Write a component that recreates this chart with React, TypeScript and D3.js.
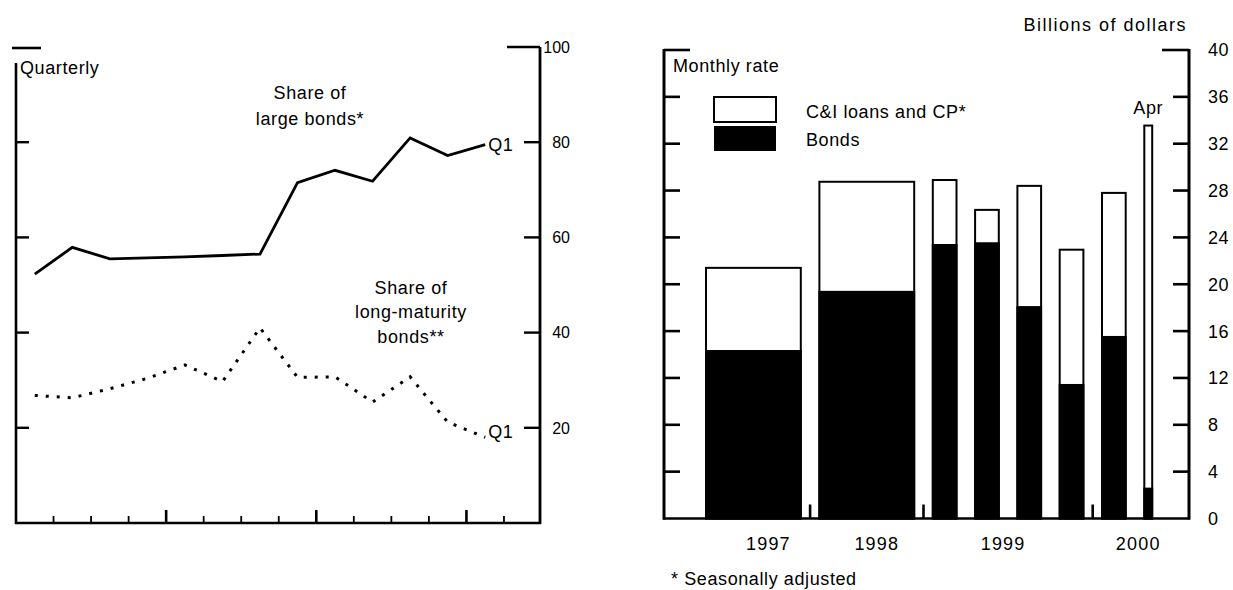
import React from "react";
import * as d3 from "d3";

// ---------- Left panel data (quarterly, 1997:Q1 – 2000:Q1) ----------
const quarters = [
  "1997Q1", "1997Q2", "1997Q3", "1997Q4",
  "1998Q1", "1998Q2", "1998Q3", "1998Q4",
  "1999Q1", "1999Q2", "1999Q3", "1999Q4",
  "2000Q1",
];
const largeBondShare = [52.3, 57.9, 55.5, 55.7, 55.9, 56.2, 56.5, 71.5, 74.1, 71.8, 80.9, 77.2, 79.5];
const longMaturityShare = [26.8, 26.3, 28.2, 30.4, 33.2, 29.7, 41.0, 30.6, 30.7, 25.4, 30.7, 21.2, 18.0];
const leftTickValues = [20, 40, 60, 80, 100];

// ---------- Right panel data (monthly rate, billions of dollars) ----------
const barPeriods = ["1997", "1998", "1999:Q1", "1999:Q2", "1999:Q3", "1999:Q4", "2000:Q1", "Apr"];
const barYears = ["1997", "1998", "1999", "1999", "1999", "1999", "2000", "2000"];
const barMonths = [12, 12, 3, 3, 3, 3, 3, 1];
const bondValues = [14.3, 19.35, 23.35, 23.5, 18.05, 11.4, 15.5, 2.55];
const totalValues = [21.4, 28.75, 28.9, 26.35, 28.4, 22.95, 27.8, 33.55];
const yearLabels = ["1997", "1998", "1999", "2000"];
const rightTickValues = [0, 4, 8, 12, 16, 20, 24, 28, 32, 36, 40];

const FONT = "'Liberation Sans', Arial, Helvetica, sans-serif";

export default function App() {
  const W = 1233;
  const H = 590;

  // ----- Left panel geometry -----
  const L = { left: 16, right: 540, top: 47, bottom: 523 };
  const xL = d3.scaleLinear().domain([0, 14]).range([L.left, L.right + 1.5]);
  const yL = d3.scaleLinear().domain([0, 100]).range([L.bottom, L.top]);
  const solidLine = d3
    .line<number>()
    .x((_, i) => xL(i + 0.5))
    .y((d) => yL(d))(largeBondShare) as string;
  const dottedLine = d3
    .line<number>()
    .x((_, i) => xL(i + 0.5))
    .y((d) => yL(d))(longMaturityShare) as string;
  const qTicks = d3.range(1, 14);

  // ----- Right panel geometry -----
  const R = { left: 664, right: 1189, top: 50, bottom: 518.5 };
  const yR = d3.scaleLinear().domain([0, 40]).range([R.bottom, R.top]);
  const padL = 42;
  const gap = 18.6;
  const totalMonths = d3.sum(barMonths);
  const xMonth = d3.scaleLinear().domain([0, totalMonths]).range([0, totalMonths * 7.9]);
  const cum = [0, ...d3.cumsum(barMonths)];
  const bars = barPeriods.map((p, i) => {
    const x0 = R.left + padL + xMonth(cum[i]) + i * gap;
    const x1 = x0 + xMonth(barMonths[i]);
    return { p, i, x0, x1, bond: bondValues[i], total: totalValues[i], year: barYears[i] };
  });
  const yearGroups = yearLabels.map((y) => {
    const g = bars.filter((b) => b.year === y);
    return { y, x0: g[0].x0, x1: g[g.length - 1].x1, n: g.length };
  });
  const boundaryTicks = yearGroups.slice(1).map((g, i) => (yearGroups[i].x1 + g.x0) / 2);
  const yearLabelX = yearGroups.map((g, i) => {
    if (g.n === 1) return (g.x0 + g.x1) / 2 + (i === 0 ? 15 : 10);
    if (i === yearGroups.length - 1) return g.x1 - 14;
    return (g.x0 + g.x1) / 2 - 5;
  });

  const textStyle: React.CSSProperties = { fontFamily: FONT, fontSize: 18, letterSpacing: 0.6 };

  return (
    <svg
      width={W}
      height={H}
      style={{ position: "absolute", left: 0, top: 0, background: "#fff" }}
      fontFamily={FONT}
    >
      <rect x={0} y={0} width={W} height={H} fill="#fff" />

      {/* ================= LEFT PANEL ================= */}
      <g>
        <line x1={L.left} x2={L.left} y1={63} y2={L.bottom + 1} stroke="#000" strokeWidth={2.6} />
        <line x1={L.right} x2={L.right} y1={L.top} y2={L.bottom + 1} stroke="#000" strokeWidth={2.8} />
        <line x1={L.left - 1} x2={L.right + 1} y1={L.bottom} y2={L.bottom} stroke="#000" strokeWidth={2.4} />
        <line x1={12} x2={41} y1={yL(100) + 1} y2={yL(100) + 1} stroke="#000" strokeWidth={2.6} />
        <line x1={507} x2={L.right} y1={yL(100)} y2={yL(100)} stroke="#000" strokeWidth={2.6} />
        {leftTickValues
          .filter((v) => v < 100)
          .map((v) => (
            <g key={"lt" + v}>
              <line x1={L.left} x2={L.left + 13} y1={yL(v)} y2={yL(v)} stroke="#000" strokeWidth={2.4} />
              <line x1={L.right - 16} x2={L.right} y1={yL(v)} y2={yL(v)} stroke="#000" strokeWidth={2.4} />
            </g>
          ))}
        {leftTickValues.map((v) => (
          <text
            key={"ll" + v}
            x={570}
            y={yL(v)}
            dy="0.36em"
            textAnchor="end"
            style={{ fontFamily: FONT, fontSize: 16, letterSpacing: 0 }}
          >
            {v}
          </text>
        ))}
        {qTicks.map((q) => (
          <line
            key={"qt" + q}
            x1={xL(q)}
            x2={xL(q)}
            y1={L.bottom}
            y2={L.bottom - (q % 4 === 0 ? 13 : 7)}
            stroke="#000"
            strokeWidth={q % 4 === 0 ? 2.6 : 1.8}
          />
        ))}

        <path d={solidLine} fill="none" stroke="#000" strokeWidth={2.8} strokeLinejoin="miter" />
        <path d={dottedLine} fill="none" stroke="#000" strokeWidth={3} strokeDasharray="3 8" />

        <text x={20} y={74} style={textStyle}>Quarterly</text>
        <text x={310} y={99} textAnchor="middle" style={textStyle}>Share of</text>
        <text x={310} y={125} textAnchor="middle" style={textStyle}>large bonds*</text>
        <text x={411} y={294} textAnchor="middle" style={textStyle}>Share of</text>
        <text x={411} y={318} textAnchor="middle" style={textStyle}>long-maturity</text>
        <text x={411} y={343} textAnchor="middle" style={textStyle}>bonds**</text>
        <text x={xL(12.5) + 3} y={yL(largeBondShare[12]) + 6.5} style={textStyle}>Q1</text>
        <text x={xL(12.5) + 3} y={yL(longMaturityShare[12]) + 1} style={textStyle}>Q1</text>
      </g>

      {/* ================= RIGHT PANEL ================= */}
      <g>
        {bars.map((b) => (
          <g key={"bar" + b.i}>
            <rect
              x={b.x0}
              y={yR(b.total)}
              width={b.x1 - b.x0}
              height={yR(0) - yR(b.total)}
              fill="#fff"
              stroke="#000"
              strokeWidth={2}
            />
            <rect
              x={b.x0}
              y={yR(b.bond)}
              width={b.x1 - b.x0}
              height={yR(0) - yR(b.bond)}
              fill="#000"
              stroke="#000"
              strokeWidth={2}
            />
          </g>
        ))}

        <line x1={R.left} x2={R.left} y1={R.top - 1} y2={R.bottom + 1} stroke="#000" strokeWidth={3} />
        <line x1={R.right} x2={R.right} y1={R.top - 1} y2={R.bottom + 1} stroke="#000" strokeWidth={3} />
        <line x1={R.left - 1} x2={R.right + 1} y1={R.bottom} y2={R.bottom} stroke="#000" strokeWidth={2.6} />
        {rightTickValues
          .filter((v) => v > 0)
          .map((v) => (
            <g key={"rt" + v}>
              <line
                x1={R.left}
                x2={R.left + (v === 40 ? 26 : 16)}
                y1={yR(v)}
                y2={yR(v)}
                stroke="#000"
                strokeWidth={2.6}
              />
              <line
                x1={R.right - (v === 40 ? 27 : 16)}
                x2={R.right}
                y1={yR(v)}
                y2={yR(v)}
                stroke="#000"
                strokeWidth={2.6}
              />
            </g>
          ))}
        {rightTickValues.map((v) => (
          <text key={"rl" + v} x={1208} y={yR(v)} dy="0.36em" style={textStyle}>
            {v}
          </text>
        ))}
        {boundaryTicks.map((x, i) => (
          <line key={"bt" + i} x1={x} x2={x} y1={R.bottom} y2={R.bottom - 14} stroke="#000" strokeWidth={2.6} />
        ))}
        {yearGroups.map((g, i) => (
          <text key={"yl" + g.y} x={yearLabelX[i]} y={550} textAnchor="middle" style={{ ...textStyle, letterSpacing: 1.2 }}>
            {g.y}
          </text>
        ))}

        <rect x={714} y={97} width={62} height={25} fill="#fff" stroke="#000" strokeWidth={2} />
        <rect x={714} y={126} width={62} height={25} fill="#000" />
        <text x={806} y={118} style={textStyle}>C&amp;I loans and CP*</text>
        <text x={806} y={146} style={textStyle}>Bonds</text>

        <text x={673} y={72} style={textStyle}>Monthly rate</text>
        <text x={1187} y={31} textAnchor="end" style={{ ...textStyle, letterSpacing: 1.5 }}>Billions of dollars</text>
        <text x={(bars[7].x0 + bars[7].x1) / 2} y={yR(bars[7].total) - 12} textAnchor="middle" style={textStyle}>
          Apr
        </text>
        <text x={671} y={585} style={textStyle}>* Seasonally adjusted</text>
      </g>
    </svg>
  );
}
